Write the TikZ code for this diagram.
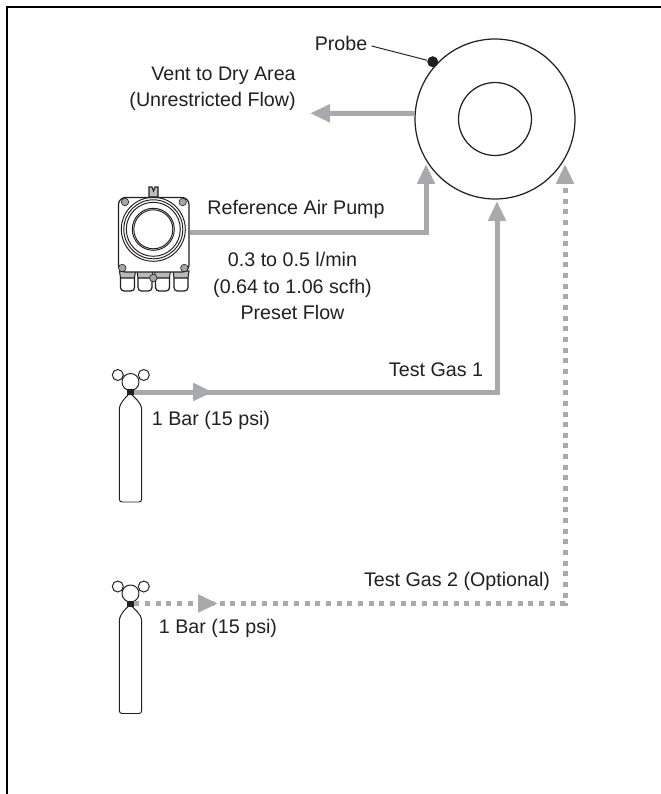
\documentclass[tikz,border=0pt]{standalone}
\usepackage{xcolor}
\usepackage{fontspec}
\setmainfont{Liberation Sans}
\usetikzlibrary{arrows.meta}
\definecolor{pipegray}{RGB}{167,169,172}
\definecolor{inkblack}{RGB}{35,31,32}
\tikzset{
    lbl/.style={text=inkblack, font=\fontsize{11.2}{15}\selectfont, inner sep=0pt, align=center},
    flowline/.style={draw=pipegray, line width=0.1cm},
    flowdots/.style={flowline, dash pattern=on 0.1cm off 0.113cm},
    flowhead/.style={-{Triangle[length=0.4cm,width=0.34cm,color=pipegray]}},
    screw/.style={draw=inkblack, line width=0.35pt, circle, fill=gray!70, inner sep=0pt, minimum size=0.15cm},
    gasbottle/.pic={
        \draw[inkblack, line width=0.55pt] (-11.2,107) -- (-11.2,18)
            .. controls (-11.2,10) and (-4,5) .. (-0.5,1)
            .. controls (3,5) and (11.2,10) .. (11.2,18) -- (11.2,107)
            .. controls (11.2,109) and (10,110) .. (8.5,110) -- (-8.5,110)
            .. controls (-10,110) and (-11.2,109) .. (-11.2,107) -- cycle;
        \draw[inkblack, line width=0.55pt] (0,-10) circle (8.5);
        \draw[inkblack, line width=0.55pt] (-12.7,-17) circle (5.5);
        \draw[inkblack, line width=0.55pt] (13.3,-17) circle (5.5);
        \node[fill=inkblack, inner sep=0pt, minimum width=0.14cm, minimum height=0.12cm] (valve) at (0,0) {};
    }
}

\begin{document}
\begin{tikzpicture}[x=0.02cm, y=-0.02cm]
    \useasboundingbox (0,0) rectangle (661,794);

    % Frame
    \draw[black, line width=0.045cm] (7,794) -- (7,7) -- (661,7);

    % Sensor
    \node[draw=inkblack, line width=0.7pt, circle, inner sep=0pt, minimum size=3.2cm] (sensor) at (495,119) {};
    \node[draw=inkblack, line width=0.7pt, circle, inner sep=0pt, minimum size=1.46cm] (bore) at (495,119) {};
    \node[fill=inkblack, circle, inner sep=0pt, minimum size=0.22cm] (probe) at (432.7,61.7) {};

    % Pump body
    \foreach \gx in {127.5,145,162.5,181} {
        \draw[inkblack, line width=0.6pt, fill=gray!55] (\gx-8,271) -- (\gx+8,271) -- (\gx+7,278) -- (\gx-7,278) -- cycle;
        \draw[inkblack, line width=0.7pt, rounded corners=0.07cm] (\gx-7,278) -- (\gx-7,291) -- (\gx+7,291) -- (\gx+7,278);
    }
    \draw[inkblack, line width=0.7pt, fill=white, rounded corners=0.14cm] (118.5,197.5) rectangle (189,272);
    \draw[inkblack, line width=0.6pt, fill=inkblack!30] (149,197) -- (149,187) -- (152,187) -- (153.5,191) -- (155,187) -- (158,187) -- (158,197) -- cycle;
    \foreach \gr in {32,29.5,27,21,19.5} {
        \draw[inkblack, line width=0.55pt] (153.3,229.3) circle (\gr);
    }
    \node[screw] (screwa) at (125,202) {};
    \node[screw] (screwb) at (182.7,202) {};
    \node[screw] (screwc) at (122.3,268) {};
    \node[screw] (screwd) at (184.3,268) {};
    \node[screw] (screwe) at (153.3,278) {};

    % Bottles
    \pic (cyla) at (130.5,392) {gasbottle};
    \pic (cylb) at (130.5,603.5) {gasbottle};

    % Pipe points
    \coordinate (pumpout) at (190,232.5);
    \coordinate (pumpbend) at (426,232.5);
    \coordinate (pumptip) at (426,164);
    \coordinate (venttip) at (310,113.3);
    \coordinate (gasatip) at (213,392);
    \coordinate (gasabend) at (497,392);
    \coordinate (gasaend) at (497,201);
    \coordinate (gasbtip) at (218,603.5);
    \coordinate (gasbbend) at (565,603.5);
    \coordinate (gasbend) at (565,164);

    % Pipes
    \draw[flowline, flowhead] (sensor.176) -- (venttip);
    \draw[flowline, flowhead] (pumpout) -- (pumpbend) -- (pumptip);
    \draw[flowline, flowhead] (cylavalve.east) -- (gasabend) -- (gasaend);
    \draw[flowline, flowhead] (cylavalve.east) -- (gasatip);
    \draw[flowdots, flowhead] (cylbvalve.east) -- (gasbbend) -- (gasbend);
    \draw[flowdots, flowhead] (cylbvalve.east) -- (gasbtip);

    % Labels
    \node[lbl] (probelabel) at (341,43) {Probe};
    \draw[inkblack, line width=0.55pt] (probelabel.east)+(4,3) -- (probe);
    \node[lbl, align=right, anchor=east] (ventlabel) at (296,89) {Vent to Dry Area\\(Unrestricted Flow)};
    \node[lbl] (pumplabel) at (296,209) {Reference Air Pump};
    \node[lbl] (flowlabel) at (292.5,286) {0.3 to 0.5 l/min\\(0.64 to 1.06 scfh)\\Preset Flow};
    \node[lbl] (gasalabel) at (436,370) {Test Gas 1};
    \node[lbl] (baralabel) at (211,420) {1 Bar (15 psi)};
    \node[lbl] (gasblabel) at (457,581) {Test Gas 2 (Optional)};
    \node[lbl] (barblabel) at (218,628) {1 Bar (15 psi)};
\end{tikzpicture}
\end{document}
